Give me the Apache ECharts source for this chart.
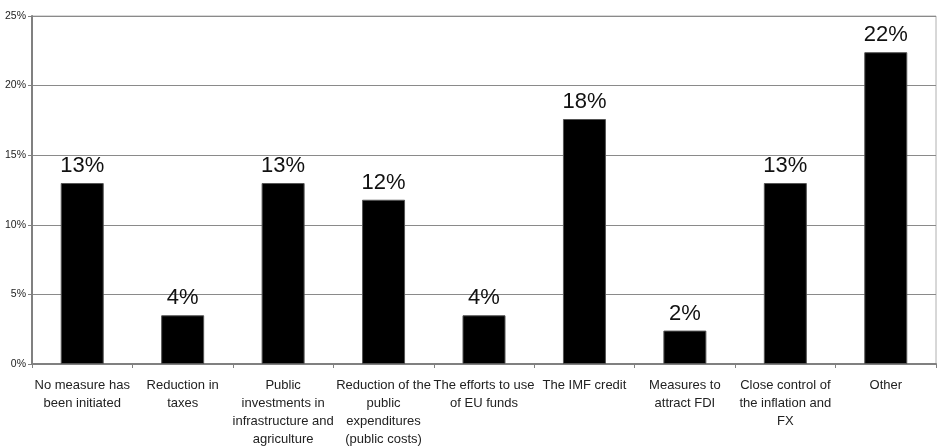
<!DOCTYPE html>
<html>
<head>
<meta charset="utf-8">
<script src="https://cdn.jsdelivr.net/npm/echarts@6/dist/echarts.min.js"></script>
<style>
  html, body { margin: 0; padding: 0; background: #fff; }
  #chart { width: 938px; height: 446px; }
</style>
</head>
<body>
<div id="chart"></div>
<script>
// Measures taken (share of answers), one bar per category
const categories = [
  'No measure has\nbeen initiated',
  'Reduction in\ntaxes',
  'Public\ninvestments in\ninfrastructure and\nagriculture',
  'Reduction of the\npublic\nexpenditures\n(public costs)',
  'The efforts to use\nof EU funds',
  'The IMF credit',
  'Measures to\nattract FDI',
  'Close control of\nthe inflation and\nFX',
  'Other'
];
const shares = [13.0, 3.5, 13.0, 11.8, 3.5, 17.6, 2.4, 13.0, 22.4];
const yMin = 0;
const yMax = 25;
const yStep = 5;

const FONT = '"Liberation Sans", Arial, sans-serif';
const chart = echarts.init(document.getElementById('chart'), null, { renderer: 'canvas' });

chart.setOption({
  animation: false,
  backgroundColor: '#ffffff',
  grid: {
    left: 32, right: 2, top: 16, bottom: 82,
    containLabel: false,
    outerBoundsMode: 'none',
    show: true, borderColor: '#b0b0b0', borderWidth: 1
  },
  xAxis: {
    type: 'category',
    data: categories,
    axisLine: { show: true, lineStyle: { color: '#808080', width: 2 } },
    axisTick: { show: true, inside: false, length: 4, lineStyle: { color: '#808080', width: 1 } },
    axisLabel: {
      interval: 0,
      margin: 12,
      fontFamily: FONT,
      fontSize: 13,
      lineHeight: 18,
      color: '#222',
      align: 'center'
    },
    splitLine: { show: false }
  },
  yAxis: {
    type: 'value',
    min: yMin,
    max: yMax,
    interval: yStep,
    axisLine: { show: true, lineStyle: { color: '#808080', width: 2 } },
    axisTick: { show: true, length: 4, lineStyle: { color: '#808080', width: 1 } },
    axisLabel: {
      formatter: '{value}%',
      margin: 6,
      fontFamily: FONT,
      fontSize: 10.5,
      color: '#222'
    },
    splitLine: { show: true, lineStyle: { color: '#8a8a8a', width: 1 } }
  },
  series: [{
    type: 'bar',
    data: shares,
    barWidth: 43,
    itemStyle: { color: '#000', borderColor: '#555', borderWidth: 1 },
    label: {
      show: true,
      position: 'top',
      distance: 6,
      formatter: p => Math.round(p.value) + '%',
      fontFamily: FONT,
      fontSize: 22,
      color: '#111'
    }
  }]
});
</script>
</body>
</html>
